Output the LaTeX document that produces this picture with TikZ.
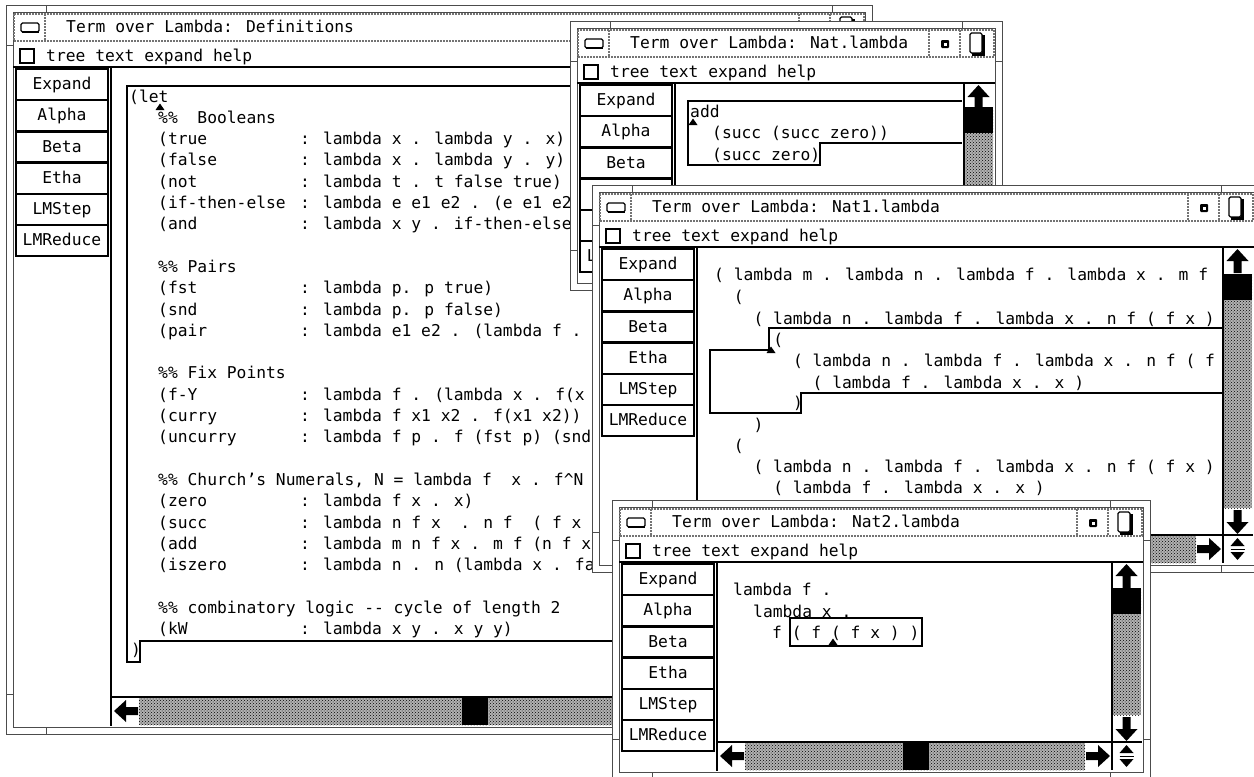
\documentclass[tikz,border=0pt]{standalone}
\usepackage{fontspec}
\newfontfamily\termfont{DejaVu Sans Mono}
\usetikzlibrary{patterns}
\newcommand\cf{\termfont\fontsize{16.3pt}{18pt}\selectfont}

\tikzset{
  frame/.style={draw=black!70, line width=0.9pt},
  titlerule/.style={draw=black!55, line width=2pt, densely dotted},
  txt/.style={font=\cf, inner sep=0pt, anchor=base west, text=black},
  btntxt/.style={font=\cf, inner sep=0pt, anchor=base, text=black},
  button/.style={draw=black, line width=2.4pt},
  outline/.style={draw=black, line width=1.1pt},
  heavy/.style={draw=black, line width=2.6pt},
  stipple/.style={fill=black!30, postaction={pattern=crosshatch dots, pattern color=black}},
}

% thick scroll-bar arrow, pointing up before rotation
\newcommand\sbarrow[3]{%
  \fill[black,shift={(#1,#2)},rotate=#3]
    (0,-12) -- (11,0) -- (4,0) -- (4,12) -- (-4,12) -- (-4,0) -- (-11,0) -- cycle;}
% up/down glyph in the scroll-bar corner
\newcommand\updown[2]{%
  \fill[black,shift={(#1,#2)}] (0,-11) -- (7,-3) -- (-7,-3) -- cycle
                               (0,11) -- (7,3) -- (-7,3) -- cycle;
  \draw[black,line width=1pt,shift={(#1,#2)}] (-7,0) -- (7,0);}
% cursor mark of the structure editor
\newcommand\caret[2]{\fill[black] (#1-4.5,#2+3) -- (#1,#2-3.5) -- (#1+4.5,#2+3) -- cycle;}

% a complete editor window:
% name, x0, y0, x1, y1, title, top of vertical thumb, left of horizontal thumb,
% button labels
\newcommand\xwin[9]{%
  \pgfmathsetmacro\wxa{#2}\pgfmathsetmacro\wya{#3}%
  \pgfmathsetmacro\wxb{#4}\pgfmathsetmacro\wyb{#5}%
  \fill[white] (\wxa,\wya) rectangle (\wxb,\wyb);
  \draw[frame] (\wxa,\wya) rectangle (\wxb,\wyb);
  \draw[frame] (\wxa+7,\wya+7) rectangle (\wxb-7,\wyb-7);
  \draw[frame] (\wxa+40,\wya) -- ++(0,7) (\wxb-40,\wya) -- ++(0,7)
               (\wxa+40,\wyb) -- ++(0,-7) (\wxb-40,\wyb) -- ++(0,-7)
               (\wxa,\wya+40) -- ++(7,0) (\wxb,\wya+40) -- ++(-7,0)
               (\wxa,\wyb-40) -- ++(7,0) (\wxb,\wyb-40) -- ++(-7,0);
  % title bar
  \draw[titlerule] (\wxa+8,\wya+9) rectangle (\wxb-8,\wya+36);
  \draw[titlerule] (\wxa+39,\wya+9) -- (\wxa+39,\wya+36)
                   (\wxb-73,\wya+9) -- (\wxb-73,\wya+36)
                   (\wxb-42,\wya+9) -- (\wxb-42,\wya+36);
  \draw[black,line width=1.2pt,rounded corners=1.5pt] (\wxa+15,\wya+18) rectangle (\wxa+33,\wya+27);
  \draw[black,line width=2.6pt] (\wxa+16,\wya+27) -- (\wxa+33,\wya+27);
  \fill[black,rounded corners=1pt] (\wxb-61,\wya+19) rectangle (\wxb-53,\wya+27);
  \fill[white] (\wxb-58.5,\wya+21.5) rectangle (\wxb-55.5,\wya+24.5);
  \draw[black,line width=1.2pt,rounded corners=1.5pt] (\wxb-32,\wya+12) rectangle (\wxb-20,\wya+32);
  \draw[black,line width=2.2pt] (\wxb-18.5,\wya+14) -- (\wxb-18.5,\wya+33.5) -- (\wxb-30,\wya+33.5);
  \node[txt] (#1-title) at (\wxa+60,\wya+27) {#6};
  % menu bar
  \draw[black,line width=1.3pt] (\wxa+14,\wya+44) rectangle (\wxa+28,\wya+58);
  \draw[black,line width=2.6pt] (\wxa+14,\wya+58) -- (\wxa+28,\wya+58);
  \node[txt] (#1-menu) at (\wxa+40,\wya+56) {tree text expand help};
  \draw[heavy] (\wxa+7,\wya+62) -- (\wxb-7,\wya+62);
  % command buttons
  \foreach \lab [count=\i from 0] in {#9}{
    \pgfmathsetmacro\ty{\wya+64+31.2*\i}
    \draw[button] (\wxa+10,\ty) rectangle (\wxa+102,\ty+31.2);
    \node[btntxt] (#1-b\i) at (\wxa+56,\ty+20.6) {\lab};
  }
  \draw[heavy] (\wxa+105,\wya+62) -- (\wxa+105,\wyb-8);
  % scroll bars
  \pgfmathsetmacro\vl{\wxb-38}\pgfmathsetmacro\vr{\wxb-9}%
  \pgfmathsetmacro\vt{\wya+62}\pgfmathsetmacro\vb{\wyb-37}%
  \pgfmathsetmacro\hl{\wxa+106}\pgfmathsetmacro\hb{\wyb-9}%
  \pgfmathsetmacro\vc{(\vl+\vr)/2}\pgfmathsetmacro\hc{(\vb+\hb)/2}%
  \fill[stipple] (\vl,\vt+27) rectangle (\vr,\vb-27);
  \fill[black] (\vl,#7) rectangle (\vr,#7+26);
  \sbarrow{\vc}{\vt+14}{0}
  \sbarrow{\vc}{\vb-13}{180}
  \fill[stipple] (\hl+27,\vb) rectangle (\vl-27,\hb);
  \fill[black] (#8,\vb) rectangle (#8+26,\hb);
  \sbarrow{\hl+14}{\hc}{90}
  \sbarrow{\vl-14}{\hc}{-90}
  \updown{\vc}{\hc}
  \draw[heavy] (\vl,\vt) -- (\vl,\hb);
  \draw[heavy] (\hl,\vb) -- (\wxb-8,\vb);
}

% one line of the definitions buffer (name, row, x, text)
\newcommand\cl[4]{\node[txt] (#1) at (#3,{102+21.3*#2}) {#4};}

\begin{document}
\begin{tikzpicture}[x=1pt,y=-1pt]
\useasboundingbox (0,0) rectangle (1254,777);
\clip (0,0) rectangle (1254,777);
\fill[white] (0,0) rectangle (1254,777);

% ---------------- Definitions ----------------
\xwin{w1}{6}{5}{872}{734}{Term over Lambda: Definitions}{95}{462}{Expand,Alpha,Beta,Etha,LMStep,LMReduce}
\draw[outline] (700,86) -- (127,86) -- (127,662) -- (140,662) -- (140,641) -- (700,641);
\caret{160}{107}
\cl{d0}{0}{129}{(let}
\cl{d1}{1}{158}{\%\%~ Booleans}
\cl{d2}{2}{158}{(true}          \cl{d2b}{2}{300}{: lambda x . lambda y . x)}
\cl{d3}{3}{158}{(false}         \cl{d3b}{3}{300}{: lambda x . lambda y . y)}
\cl{d4}{4}{158}{(not}           \cl{d4b}{4}{300}{: lambda t . t false true)}
\cl{d5}{5}{158}{(if-then-else}  \cl{d5b}{5}{300}{: lambda e e1 e2 . (e e1 e2)}
\cl{d6}{6}{158}{(and}           \cl{d6b}{6}{300}{: lambda x y . if-then-else}
\cl{d8}{8}{158}{\%\% Pairs}
\cl{d9}{9}{158}{(fst}           \cl{d9b}{9}{300}{: lambda p. p true)}
\cl{d10}{10}{158}{(snd}         \cl{d10b}{10}{300}{: lambda p. p false)}
\cl{d11}{11}{158}{(pair}        \cl{d11b}{11}{300}{: lambda e1 e2 . (lambda f . f}
\cl{d13}{13}{158}{\%\% Fix Points}
\cl{d14}{14}{158}{(f-Y}         \cl{d14b}{14}{300}{: lambda f . (lambda x . f(x x}
\cl{d15}{15}{158}{(curry}       \cl{d15b}{15}{300}{: lambda f x1 x2 . f(x1 x2))}
\cl{d16}{16}{158}{(uncurry}     \cl{d16b}{16}{300}{: lambda f p . f (fst p) (snd}
\cl{d18}{18}{158}{\%\% Church’s Numerals, N = lambda f~ x . f\textasciicircum N}
\cl{d19}{19}{158}{(zero}        \cl{d19b}{19}{300}{: lambda f x . x)}
\cl{d20}{20}{158}{(succ}        \cl{d20b}{20}{300}{: lambda n f x~ . n f~ ( f x )}
\cl{d21}{21}{158}{(add}         \cl{d21b}{21}{300}{: lambda m n f x . m f (n f x)}
\cl{d22}{22}{158}{(iszero}      \cl{d22b}{22}{300}{: lambda n . n (lambda x . fal}
\cl{d24}{24}{158}{\%\% combinatory logic -{}- cycle of length 2}
\cl{d25}{25}{158}{(kW}          \cl{d25b}{25}{300}{: lambda x y . x y y)}
\cl{d26}{26}{131}{)}

% ---------------- Nat.lambda ----------------
\xwin{w2}{570}{21}{1002}{290}{Term over Lambda: Nat.lambda}{107}{800}{Expand,Alpha,Beta,{},{},LMReduce}
\draw[outline] (962,101) -- (688,101) -- (688,165) -- (820,165) -- (820,143) -- (962,143);
\caret{693}{122}
\node[txt] (n0) at (690,117) {add};
\node[txt] (n1) at (712,138) {(succ (succ zero))};
\node[txt] (n2) at (712,160) {(succ zero)};

% ---------------- Nat1.lambda ----------------
\xwin{w3}{592}{185}{1261}{572}{Term over Lambda: Nat1.lambda}{274}{900}{Expand,Alpha,Beta,Etha,LMStep,LMReduce}
\draw[outline] (1222,328) -- (769,328) -- (769,350) -- (710,350) -- (710,413)
               -- (801,413) -- (801,393) -- (1222,393);
\caret{771}{350}
\node[txt] (m1)  at (714,280)   {( lambda m . lambda n . lambda f . lambda x . m f};
\node[txt] (m2)  at (733.7,302) {(};
\node[txt] (m3)  at (753.4,324) {( lambda n . lambda f . lambda x . n f ( f x )};
\node[txt] (m4)  at (773.1,345) {(};
\node[txt] (m5)  at (792.8,366) {( lambda n . lambda f . lambda x . n f ( f};
\node[txt] (m6)  at (812.5,388) {( lambda f . lambda x . x )};
\node[txt] (m7)  at (792.8,408) {)};
\node[txt] (m8)  at (753.4,430) {)};
\node[txt] (m9)  at (733.7,451) {(};
\node[txt] (m10) at (753.4,472) {( lambda n . lambda f . lambda x . n f ( f x )};
\node[txt] (m11) at (773.1,493) {( lambda f . lambda x . x )};

% ---------------- Nat2.lambda ----------------
\xwin{w4}{612}{500}{1150}{779}{Term over Lambda: Nat2.lambda}{588}{903}{Expand,Alpha,Beta,Etha,LMStep,LMReduce}
\draw[outline] (790,618) rectangle (922,646);
\caret{833}{642}
\node[txt] (k1) at (733,595) {lambda f .};
\node[txt] (k2) at (753,617) {lambda x .};
\node[txt] (k3) at (772,638) {f ( f ( f x ) )};
\end{tikzpicture}
\end{document}
